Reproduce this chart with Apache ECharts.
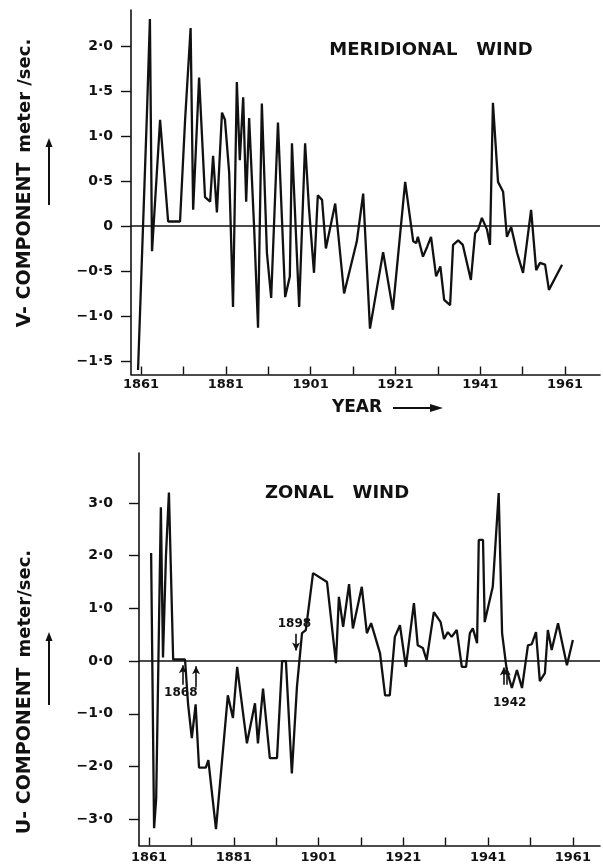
<!DOCTYPE html>
<html>
<head>
<meta charset="utf-8">
<script src="https://cdn.jsdelivr.net/npm/echarts@6/dist/echarts.min.js"></script>
<style>
html, body { margin: 0; padding: 0; background: #fff; }
#chart { width: 603px; height: 867px; }
</style>
</head>
<body>
<div id="chart"></div>
<script>
// meridional wind (V component), vertices
var vYears = [1860.3, 1862.4, 1863.1, 1863.6, 1865.5, 1867.4, 1870.2, 1871.4, 1872.7, 1873.3,
  1874.7, 1876.1, 1877.3, 1878.0, 1878.9, 1880.1, 1880.8, 1881.8, 1882.7, 1883.6,
  1884.3, 1885.1, 1885.8, 1886.5, 1887.7, 1888.6, 1889.5, 1890.7, 1891.7, 1893.3,
  1895.0, 1896.1, 1896.6, 1898.3, 1899.7, 1900.6, 1901.8, 1902.7, 1903.7, 1904.6,
  1906.8, 1908.9, 1911.9, 1913.4, 1915.0, 1918.1, 1920.4, 1923.3, 1925.2, 1925.9,
  1926.3, 1927.5, 1928.5, 1929.4, 1930.6, 1931.6, 1932.5, 1933.9, 1934.6, 1935.8,
  1936.9, 1938.8, 1939.8, 1940.5, 1941.4, 1942.6, 1943.3, 1944.0, 1945.2, 1946.4,
  1947.3, 1948.3, 1949.7, 1951.1, 1953.0, 1954.2, 1955.1, 1956.3, 1957.2, 1960.3]
var vValues = [-1.6, 1.25, 2.3, -0.28, 1.18, 0.05, 0.05, 1.18, 2.2, 0.18,
  1.65, 0.32, 0.27, 0.78, 0.15, 1.26, 1.18, 0.59, -0.9, 1.6,
  0.73, 1.43, 0.27, 1.2, -0.04, -1.13, 1.36, -0.3, -0.8, 1.15,
  -0.79, -0.56, 0.92, -0.9, 0.92, 0.21, -0.52, 0.34, 0.29, -0.25,
  0.25, -0.75, -0.17, 0.36, -1.14, -0.29, -0.93, 0.49, -0.17, -0.19,
  -0.12, -0.34, -0.23, -0.12, -0.56, -0.45, -0.82, -0.88, -0.21, -0.16,
  -0.21, -0.6, -0.08, -0.04, 0.09, -0.04, -0.21, 1.37, 0.49, 0.38,
  -0.12, -0.01, -0.3, -0.52, 0.18, -0.49, -0.41, -0.43, -0.71, -0.43]

// zonal wind (U component)
var uYears = [1861.5, 1862.2, 1862.7, 1863.8, 1864.3, 1865.0, 1865.7, 1866.7, 1869.5, 1870.2,
  1871.1, 1872.0, 1872.8, 1874.4, 1875.0, 1876.8, 1879.6, 1880.8, 1881.8, 1884.1,
  1886.0, 1886.7, 1887.9, 1889.5, 1891.2, 1892.4, 1893.3, 1894.7, 1895.9, 1897.1,
  1898.0, 1899.7, 1903.0, 1905.1, 1905.8, 1906.8, 1908.2, 1909.1, 1911.2, 1912.4,
  1913.4, 1915.5, 1916.7, 1917.8, 1919.0, 1920.2, 1921.6, 1923.5, 1924.4, 1925.6,
  1926.5, 1928.2, 1929.8, 1930.6, 1931.5, 1932.4, 1933.6, 1934.8, 1935.8, 1936.7,
  1937.4, 1938.4, 1938.8, 1939.8, 1940.2, 1942.1, 1943.5, 1944.3, 1945.4, 1946.6,
  1947.8, 1949.0, 1950.4, 1951.3, 1952.3, 1953.2, 1954.4, 1955.1, 1956.0, 1957.5,
  1959.6, 1961.0]
var uValues = [2.05, -3.17, -2.6, 2.92, 0.07, 2.0, 3.2, 0.03, 0.03, -0.8,
  -1.46, -0.82, -2.02, -2.02, -1.88, -3.19, -0.65, -1.08, -0.11, -1.56,
  -0.8, -1.56, -0.52, -1.84, -1.84, 0, 0, -2.13, -0.49, 0.53,
  0.59, 1.67, 1.5, -0.04, 1.22, 0.65, 1.46, 0.62, 1.41, 0.53,
  0.72, 0.15, -0.65, -0.65, 0.46, 0.68, -0.11, 1.1, 0.3, 0.25,
  0.02, 0.93, 0.74, 0.42, 0.55, 0.46, 0.59, -0.11, -0.11, 0.53,
  0.62, 0.34, 2.3, 2.3, 0.74, 1.41, 3.19, 0.53, -0.17, -0.51,
  -0.17, -0.51, 0.3, 0.32, 0.55, -0.38, -0.23, 0.59, 0.21, 0.72,
  -0.08, 0.4]

var tickYears = [1861, 1871, 1881, 1891, 1901, 1911, 1921, 1931, 1941, 1951, 1961]
var labelYears = [1861, 1881, 1901, 1921, 1941, 1961]
var vTicks = [-1.5, -1.0, -0.5, 0, 0.5, 1.0, 1.5, 2.0]
var uTicks = [-3, -2, -1, 0, 1, 2, 3]

// annotations on the zonal curve: [label, year, value]
var uNotes = [['1868', 1868.5, -0.6], ['1898', 1895.3, 0.7], ['1942', 1946.1, -0.8]]
var uArrows = [[1869.0, -0.45, -0.08], [1872.1, -0.5, -0.1], [1895.7, 0.52, 0.2],
  [1944.7, -0.45, -0.12], [1945.4, -0.45, -0.12]]

var FONT = 'DejaVu Sans'
var INK = '#111'

function pairs(xs, ys) {
  return xs.map(function (x, i) { return [x, ys[i]] })
}
function dotNum(v, zeroText) {
  if (v === 0) return zeroText
  var s = Math.abs(v).toFixed(1).replace('.', '·')
  return (v < 0 ? '−' : '') + s
}

var labelStyle = { color: INK, fontFamily: FONT, fontWeight: 'bold', fontSize: 13 }

function xAx(idx, min, max, margin) {
  return {
    gridIndex: idx, type: 'value', min: min, max: max,
    axisLine: { show: true, onZero: false, lineStyle: { color: INK, width: 1.6 } },
    axisTick: { show: true, inside: true, length: 8, customValues: tickYears, lineStyle: { color: INK, width: 1.4 } },
    axisLabel: Object.assign({ customValues: labelYears, margin: margin, formatter: function (v) { return String(v) } }, labelStyle),
    splitLine: { show: false }
  }
}
function yAx(idx, min, max, ticks, zeroText, margin) {
  return {
    gridIndex: idx, type: 'value', min: min, max: max,
    axisLine: { show: true, onZero: false, lineStyle: { color: INK, width: 1.6 } },
    axisTick: { show: true, length: 10, customValues: ticks, lineStyle: { color: INK, width: 1.4 } },
    axisLabel: Object.assign({}, labelStyle, { fontSize: 14, customValues: ticks, margin: margin, formatter: function (v) { return dotNum(v, zeroText) } }),
    splitLine: { show: false }
  }
}

function upArrow(x, yTail, yHead) {
  var dir = yHead < yTail ? 1 : -1
  return [
    { type: 'line', shape: { x1: x, y1: yTail, x2: x, y2: yHead + dir * 4 }, style: { stroke: INK, lineWidth: 2 } },
    { type: 'polygon', shape: { points: [[x, yHead], [x - 3.5, yHead + dir * 9], [x + 3.5, yHead + dir * 9]] }, style: { fill: INK } }
  ]
}

var chart = echarts.init(document.getElementById('chart'))

var zeroLine = { yAxis: 0, lineStyle: { color: INK, width: 1.6, type: 'solid' }, label: { show: false } }

var option = {
  backgroundColor: '#fff',
  animation: false,
  grid: [
    { left: 131, right: 3, top: 10, height: 364.5, outerBoundsMode: 'none' },
    { left: 139, right: 3, top: 453, height: 392.5, outerBoundsMode: 'none' }
  ],
  xAxis: [xAx(0, 1858.64, 1969.25, 4), xAx(1, 1858.64, 1967.4, 6)],
  yAxis: [yAx(0, -1.65, 2.4, vTicks, '0', 18), yAx(1, -3.5, 3.95, uTicks, '0·0', 26)],
  series: [
    {
      type: 'line', xAxisIndex: 0, yAxisIndex: 0,
      data: pairs(vYears, vValues),
      symbol: 'none', lineStyle: { color: INK, width: 2.3 }, silent: true,
      markLine: { silent: true, symbol: 'none', data: [zeroLine] }
    },
    {
      type: 'line', xAxisIndex: 1, yAxisIndex: 1,
      data: pairs(uYears, uValues),
      symbol: 'none', lineStyle: { color: INK, width: 2.3 }, silent: true,
      markLine: {
        silent: true, symbol: 'none', symbolSize: [6, 8],
        lineStyle: { color: INK, width: 1.6, type: 'solid' }, label: { show: false },
        data: [zeroLine].concat(uArrows.map(function (a) {
          return [{ coord: [a[0], a[1]], symbol: 'none' }, { coord: [a[0], a[2]], symbol: 'arrow' }]
        }))
      },
      markPoint: {
        silent: true, symbol: 'circle', symbolSize: 0,
        label: { show: true, position: 'inside', color: INK, fontFamily: FONT, fontWeight: 'bold', fontSize: 12,
          formatter: function (p) { return p.name } },
        data: uNotes.map(function (n) { return { name: n[0], coord: [n[1], n[2]] } })
      }
    }
  ],
  graphic: [
    { type: 'text', x: 431, y: 50, style: { text: 'MERIDIONAL   WIND', align: 'center', verticalAlign: 'middle', fill: INK, font: 'bold 18px "DejaVu Sans"' } },
    { type: 'text', x: 337, y: 493, style: { text: 'ZONAL   WIND', align: 'center', verticalAlign: 'middle', fill: INK, font: 'bold 18px "DejaVu Sans"' } },
    { type: 'text', x: 25, y: 183, rotation: Math.PI / 2,
      style: { text: '{a|V- COMPONENT}   {b|meter /sec.}', align: 'center', verticalAlign: 'middle',
        rich: { a: { fill: INK, font: 'bold 19px "DejaVu Sans"' }, b: { fill: INK, font: 'bold 18px "DejaVu Sans"' } } } },
    { type: 'text', x: 25, y: 692, rotation: Math.PI / 2,
      style: { text: '{a|U- COMPONENT}   {b|meter/sec.}', align: 'center', verticalAlign: 'middle',
        rich: { a: { fill: INK, font: 'bold 19px "DejaVu Sans"' }, b: { fill: INK, font: 'bold 18px "DejaVu Sans"' } } } },
    { type: 'text', x: 357, y: 408, style: { text: 'YEAR', align: 'center', verticalAlign: 'middle', fill: INK, font: 'bold 17px "DejaVu Sans"' } },
    { type: 'line', shape: { x1: 393, y1: 408, x2: 432, y2: 408 }, style: { stroke: INK, lineWidth: 2 } },
    { type: 'polygon', shape: { points: [[443, 408], [430, 404], [430, 412]] }, style: { fill: INK } }
  ].concat(upArrow(49, 205, 138), upArrow(49, 705, 632))
}

chart.setOption(option)
</script>
</body>
</html>
